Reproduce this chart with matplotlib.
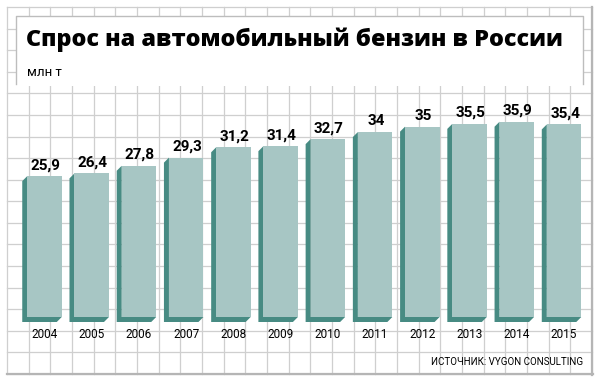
import matplotlib
matplotlib.use("Agg")
import matplotlib.pyplot as plt
from matplotlib.patches import Rectangle, Polygon
import numpy as np

years = ["2004", "2005", "2006", "2007", "2008", "2009", "2010", "2011", "2012", "2013", "2014", "2015"]
values = [25.9, 26.4, 27.8, 29.3, 31.2, 31.4, 32.7, 34.0, 35.0, 35.5, 35.9, 35.4]
value_labels = ["25,9", "26,4", "27,8", "29,3", "31,2", "31,4", "32,7", "34", "35", "35,5", "35,9", "35,4"]
title = "Спрос на автомобильный бензин в России"
unit = "млн т"
source = "ИСТОЧНИК: VYGON CONSULTING"

W, H = 601, 384
fig = plt.figure(figsize=(W / 100, H / 100), dpi=100)
fig.patch.set_facecolor("white")

NARROW = ["Liberation Sans Narrow", "Roboto", "DejaVu Sans"]

# ---- background grid (pixel coordinates) ----
bg = fig.add_axes([0, 0, 1, 1])
bg.set_xlim(0, W)
bg.set_ylim(H, 0)
bg.axis("off")
gx0, gy0, gx1, gy1 = 7, 7, 592, 374
gcol = "#cfcfcf"
for xv in np.linspace(gx0, gx1, 28):
    bg.plot([xv, xv], [gy0, gy1], color=gcol, lw=0.9, zorder=1)
for yv in np.linspace(gy0, gy1, 18):
    bg.plot([gx0, gx1], [yv, yv], color=gcol, lw=0.9, zorder=1)
bg.plot([gx1, gx1], [gy0, gy1 + 1], color="#b5b5b5", lw=1.6, zorder=2)
bg.plot([gx0, gx1 + 1], [gy1, gy1], color="#b5b5b5", lw=1.6, zorder=2)

# title box
bg.add_patch(Rectangle((16, 16), 567, 70, facecolor="white", edgecolor="none", zorder=3))
bg.plot([16, 16, 583, 583], [84, 16, 16, 84], color="#bdbdbd", lw=1.0, zorder=4)

bg.text(26, 40, title, fontsize=16.8, fontweight="heavy", family=["Open Sans", "Roboto", "DejaVu Sans"],
        va="center", ha="left", color="black", zorder=5)
bg.text(27, 72, unit, fontsize=9.5, family=NARROW, va="center", ha="left", color="black", zorder=5)
bg.text(583, 362, source, fontsize=7, family=NARROW, va="center", ha="right", color="black", zorder=5)

# ---- data axes ----
base_px = 317
scale = 5.44
ymax = 40
ax_h = ymax * scale
pitch = 47.23
x_left = 44.5 - pitch / 2
ax_w = pitch * 12
ax = fig.add_axes([x_left / W, (H - base_px) / H, ax_w / W, ax_h / H])
ax.set_xlim(-0.5, 11.5)
ax.set_ylim(0, ymax)
ax.axis("off")
ax.patch.set_alpha(0)

bw = 34.5 / pitch
d = 5.0
dx = d / pitch
dy = d / scale
light = "#a7c6c4"
dark = "#478b83"

x = np.arange(len(values))
for xi, v in zip(x, values):
    x0, x1 = xi - bw / 2, xi + bw / 2
    poly = [(x0, v), (x0 - dx, v - dy), (x0 - dx, -dy), (x1 - dx, -dy), (x1, 0), (x0, 0)]
    ax.add_patch(Polygon(poly, closed=True, facecolor=dark, edgecolor="none", zorder=2, clip_on=False))
ax.bar(x, values, width=bw, color=light, edgecolor="none", zorder=3)

for xi, v, lab in zip(x, values, value_labels):
    ax.annotate(lab, (xi, v), xytext=(1, 4), textcoords="offset pixels", ha="center", va="bottom",
                fontsize=11, fontweight="bold", family=["Roboto", "DejaVu Sans"], color="black", zorder=5)

for xi, yr in zip(x, years):
    ax.text(xi, -(334 - base_px) / ax_h, yr, transform=ax.get_xaxis_transform(), ha="center", va="center",
            fontsize=8.5, family=NARROW, color="black")

fig.savefig("out.png", dpi=100, facecolor="white")
